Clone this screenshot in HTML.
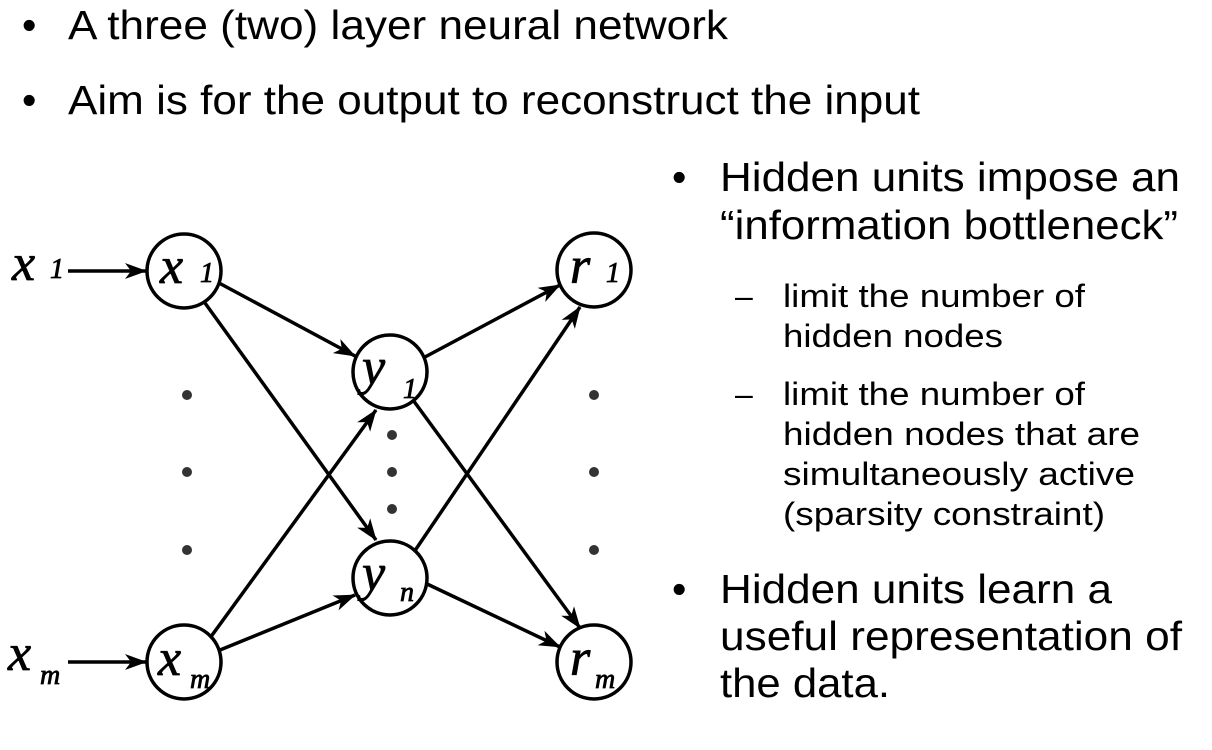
<!DOCTYPE html>
<html><head><meta charset="utf-8"><style>
html,body{margin:0;padding:0;background:#fff;}
svg{display:block;}
.t{font-family:"Liberation Sans",Arial,sans-serif;fill:#000;}
.m{font-family:"Liberation Serif","Times New Roman",serif;font-style:italic;fill:#000;}
</style></head><body>
<svg width="1212" height="750" viewBox="0 0 1212 750" xmlns="http://www.w3.org/2000/svg">
<defs>
<marker id="b" markerWidth="22" markerHeight="16" refX="21" refY="8" orient="auto" markerUnits="userSpaceOnUse">
<path d="M0,0 L22,8 L0,16 L6,8 Z" fill="#000"/>
</marker>
</defs>
<g class="t" font-size="41">
<text x="22" y="39">•</text><text x="68" y="39" textLength="660" lengthAdjust="spacingAndGlyphs">A three (two) layer neural network</text>
<text x="22" y="114">•</text><text x="68" y="114" textLength="852" lengthAdjust="spacingAndGlyphs">Aim is for the output to reconstruct the input</text>
<text x="672" y="191">•</text><text x="720" y="191" textLength="460" lengthAdjust="spacingAndGlyphs">Hidden units impose an</text>
<text x="720" y="239" textLength="458" lengthAdjust="spacingAndGlyphs">“information bottleneck”</text>
<g font-size="32">
<text x="735" y="307">–</text><text x="783" y="307" textLength="302" lengthAdjust="spacingAndGlyphs">limit the number of</text>
<text x="783" y="347" textLength="220" lengthAdjust="spacingAndGlyphs">hidden nodes</text>
<text x="735" y="405">–</text><text x="783" y="405" textLength="302" lengthAdjust="spacingAndGlyphs">limit the number of</text>
<text x="783" y="445" textLength="357" lengthAdjust="spacingAndGlyphs">hidden nodes that are</text>
<text x="783" y="485" textLength="352" lengthAdjust="spacingAndGlyphs">simultaneously active</text>
<text x="783" y="525" textLength="322" lengthAdjust="spacingAndGlyphs">(sparsity constraint)</text>
</g>
<text x="672" y="603">•</text><text x="720" y="603" textLength="392" lengthAdjust="spacingAndGlyphs">Hidden units learn a</text>
<text x="720" y="650" textLength="462" lengthAdjust="spacingAndGlyphs">useful representation of</text>
<text x="720" y="697" textLength="170" lengthAdjust="spacingAndGlyphs">the data.</text>
</g>
<g stroke="#000" stroke-width="3.5" fill="none">
<line x1="68" y1="271" x2="146" y2="271" marker-end="url(#b)"/>
<line x1="68" y1="662" x2="146" y2="662" marker-end="url(#b)"/>
<line x1="219" y1="283" x2="355" y2="356" marker-end="url(#b)"/>
<line x1="205" y1="303" x2="376" y2="540" marker-end="url(#b)"/>
<line x1="210" y1="638" x2="376" y2="410" marker-end="url(#b)"/>
<line x1="220" y1="650" x2="355" y2="595" marker-end="url(#b)"/>
<line x1="425" y1="357" x2="560" y2="285" marker-end="url(#b)"/>
<line x1="412" y1="555" x2="580" y2="307" marker-end="url(#b)"/>
<line x1="413" y1="400" x2="580" y2="628" marker-end="url(#b)"/>
<line x1="425" y1="583" x2="560" y2="647" marker-end="url(#b)"/>
<ellipse cx="184" cy="271" rx="37" ry="37" fill="#fff"/>
<ellipse cx="184" cy="662" rx="37" ry="37" fill="#fff"/>
<ellipse cx="390" cy="372" rx="37" ry="37" fill="#fff"/>
<ellipse cx="390" cy="578" rx="37" ry="37" fill="#fff"/>
<ellipse cx="594" cy="270" rx="37" ry="37" fill="#fff"/>
<ellipse cx="594" cy="662" rx="37" ry="37" fill="#fff"/>
</g>
<g fill="#333">
<circle cx="187" cy="395" r="5"/><circle cx="187" cy="472" r="5"/><circle cx="187" cy="550" r="5"/>
<circle cx="392" cy="435" r="5"/><circle cx="392" cy="472" r="5"/><circle cx="392" cy="509" r="5"/>
<circle cx="594" cy="395" r="5"/><circle cx="594" cy="472" r="5"/><circle cx="594" cy="550" r="5"/>
</g>
<g class="m" stroke="#000" stroke-width="0.8">
<text x="12" y="280" font-size="52">x</text><text x="50" y="278" font-size="28">1</text>
<text x="8" y="670" font-size="52">x</text><text x="40" y="684" font-size="28">m</text>
<text x="160" y="283" font-size="52">x</text><text x="200" y="282" font-size="28">1</text>
<text x="158" y="675" font-size="52">x</text><text x="190" y="688" font-size="28">m</text>
<text x="362" y="384" font-size="52">y</text><text x="403" y="398" font-size="28">1</text>
<text x="362" y="590" font-size="52">y</text><text x="400" y="601" font-size="28">n</text>
<text x="570" y="283" font-size="52">r</text><text x="606" y="282" font-size="28">1</text>
<text x="570" y="675" font-size="52">r</text><text x="595" y="688" font-size="28">m</text>
</g>
</svg>
</body></html>
